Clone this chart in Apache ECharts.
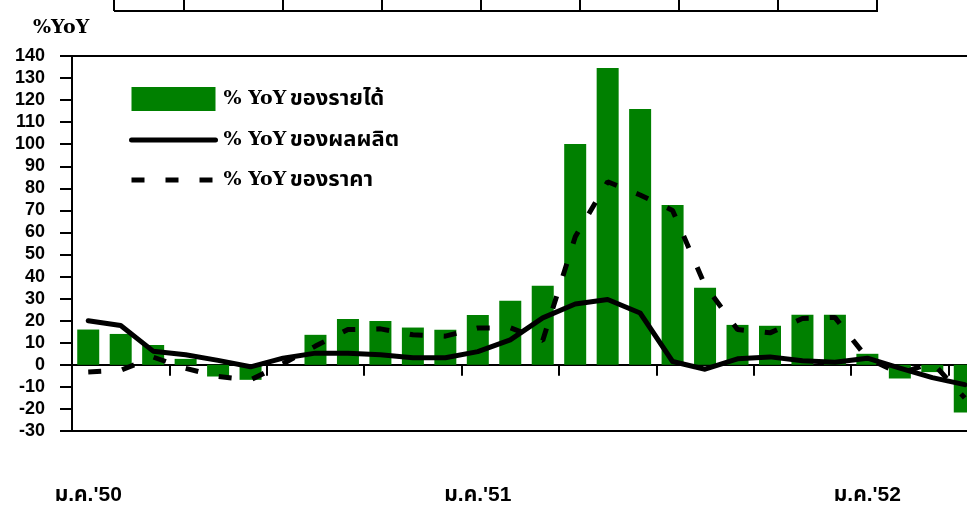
<!DOCTYPE html>
<html>
<head>
<meta charset="utf-8">
<script src="https://cdn.jsdelivr.net/npm/echarts@6/dist/echarts.min.js"></script>
<style>
html,body{margin:0;padding:0;background:#fff;}
#chart{width:967px;height:507px;}
</style>
</head>
<body>
<div id="chart"></div>
<script>
// ---- data ----
var monthNames = ['ม.ค.','ก.พ.','มี.ค.','เม.ย.','พ.ค.','มิ.ย.','ก.ค.','ส.ค.','ก.ย.','ต.ค.','พ.ย.','ธ.ค.'];
var years = ["'50","'50","'50","'50","'50","'50","'50","'50","'50","'50","'50","'50",
             "'51","'51","'51","'51","'51","'51","'51","'51","'51","'51","'51","'51",
             "'52","'52","'52","'52"];
var categories = years.map(function (y, i) { return monthNames[i % 12] + y; });

var incomeYoY = [16, 14, 9, 2.7, -5.3, -6.8, 0, 13.6, 20.8, 19.9, 16.9, 15.9,
                 22.6, 29, 35.8, 100.1, 134.6, 116, 72.5, 34.9, 18.1, 17.7, 22.7, 22.7,
                 5, -6.2, -3.3, -21.6];
var productionYoY = [20, 17.8, 6.2, 4.6, 2, -0.9, 3, 5.3, 5.3, 4.6, 3.2, 3.2,
                     6, 11.3, 21.3, 27.6, 29.6, 23.5, 1.5, -2, 2.7, 3.6, 1.8, 1.2,
                     3, -1.5, -5.8, -9];
var priceYoY = [-3.2, -2.5, 3.5, -1.6, -5.3, -6.8, 0.5, 8.5, 16, 16.3, 13.6, 13,
                16.7, 16.8, 11, 58, 83, 77, 70, 36, 16, 14.5, 21, 21.5,
                3, -4, 1, -15];

var seriesNames = ['% YoY ของรายได้', '% YoY ของผลผลิต', '% YoY ของราคา'];
var yMin = -30, yMax = 140, yStep = 10;
var axisTitle = '%YoY';
// top table fragment (decoration)
var tableCols = [114, 184, 283, 382, 481, 580, 679, 778, 877];

// ---- chart ----
var thaiSans = '"Liberation Sans", "Noto Sans Thai", "Noto Sans", sans-serif';
var serif = '"DejaVu Serif", "Liberation Serif", serif';

var graphics = tableCols.map(function (x) {
  return { type: 'line', shape: { x1: x, y1: 0, x2: x, y2: 11 }, style: { stroke: '#000', lineWidth: 2 } };
});
graphics.push({ type: 'line', shape: { x1: tableCols[0], y1: 11, x2: tableCols[tableCols.length - 1] + 1, y2: 11 }, style: { stroke: '#000', lineWidth: 2 } });

var chart = echarts.init(document.getElementById('chart'), null, { renderer: 'canvas' });
chart.setOption({
  animation: false,
  backgroundColor: '#fff',
  title: {
    text: axisTitle, left: 28, top: 14,
    textStyle: { fontFamily: serif, fontWeight: 'bold', fontSize: 19, color: '#000' }
  },
  graphic: graphics,
  legend: {
    orient: 'vertical', left: 124, top: 82,
    itemWidth: 84, itemHeight: 24, itemGap: 18,
    data: [
      { name: seriesNames[0], icon: 'rect' },
      { name: seriesNames[1], itemStyle: { opacity: 0 }, lineStyle: { width: 5, cap: 'round' } },
      { name: seriesNames[2], itemStyle: { opacity: 0 }, lineStyle: { width: 5, cap: 'butt' } }
    ],
    formatter: function (name) {
      var parts = name.split(' ของ');
      return '{a|' + parts[0] + '} {b|ของ' + parts[1] + '}';
    },
    textStyle: {
      color: '#000', padding: [0, 0, 0, 3],
      rich: {
        a: { fontFamily: serif, fontWeight: 'bold', fontSize: 19, color: '#000' },
        b: { fontFamily: thaiSans, fontWeight: 'bold', fontSize: 22, color: '#000' }
      }
    }
  },
  grid: {
    left: 72, top: 56, bottom: 76, width: 909,
    outerBoundsMode: 'none', containLabel: false,
    show: true, borderColor: '#000', borderWidth: 2, backgroundColor: 'transparent'
  },
  xAxis: [{
    type: 'category', data: categories, boundaryGap: true,
    axisLine: { onZero: true, lineStyle: { color: '#000', width: 2 } },
    axisTick: { show: true, interval: 2, length: 11, lineStyle: { color: '#000', width: 2 } },
    axisLabel: { show: false },
    splitLine: { show: false }
  }, {
    type: 'category', data: categories, boundaryGap: true, position: 'bottom',
    axisLine: { show: false, onZero: false },
    axisTick: { show: false },
    axisLabel: {
      interval: 11, margin: 54, color: '#000',
      fontFamily: thaiSans, fontWeight: 'bold', fontSize: 21
    },
    splitLine: { show: false }
  }],
  yAxis: {
    type: 'value', min: yMin, max: yMax, interval: yStep,
    axisLine: { show: true, lineStyle: { color: '#000', width: 2 } },
    axisTick: { show: true, length: 12, lineStyle: { color: '#000', width: 2 } },
    axisLabel: { margin: 27, color: '#000', fontFamily: thaiSans, fontWeight: 'bold', fontSize: 18 },
    splitLine: { show: false }
  },
  series: [{
    name: seriesNames[0], type: 'bar', data: incomeYoY, barWidth: 22,
    itemStyle: { color: '#008000' }
  }, {
    name: seriesNames[1], type: 'line', data: productionYoY,
    symbol: 'none', showSymbol: false,
    lineStyle: { color: '#000', width: 5, cap: 'round', join: 'round' },
    itemStyle: { color: '#000' }
  }, {
    name: seriesNames[2], type: 'line', data: priceYoY,
    symbol: 'none', showSymbol: false,
    lineStyle: { color: '#000', width: 5, type: [13, 21], cap: 'butt' },
    itemStyle: { color: '#000' }
  }]
});
</script>
</body>
</html>
